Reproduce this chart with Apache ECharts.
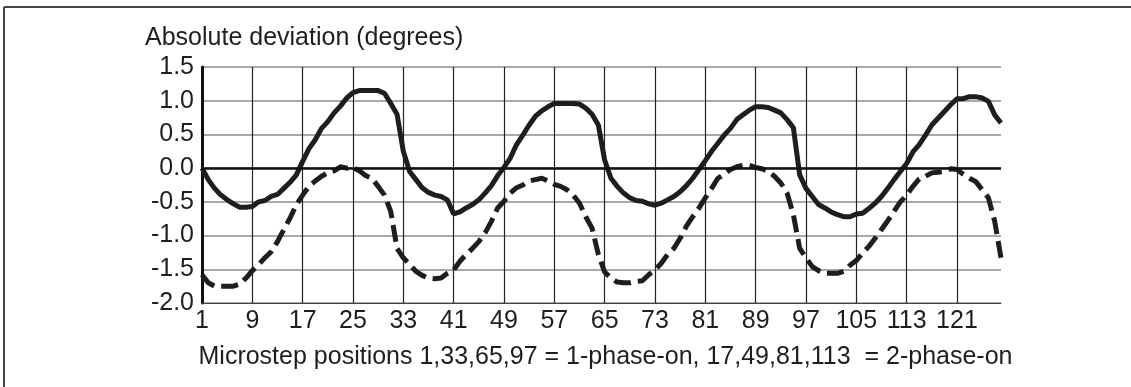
<!DOCTYPE html>
<html>
<head>
<meta charset="utf-8">
<script src="https://cdn.jsdelivr.net/npm/echarts@6/dist/echarts.min.js"></script>
<style>
  html, body { margin: 0; padding: 0; background: #fff; }
  #chart { width: 1131px; height: 387px; }
</style>
</head>
<body>
<div id="chart"></div>
<script>
// microstep positions 1..128 (category axis)
const positions = Array.from({ length: 128 }, (_, i) => String(i + 1));

// solid curve
const solid = [
  0.00, -0.17, -0.30, -0.40, -0.47, -0.53, -0.58, -0.58, -0.57, -0.50,
  -0.48, -0.42, -0.39, -0.30, -0.21, -0.10, 0.10, 0.29, 0.42, 0.59,
  0.69, 0.82, 0.92, 1.04, 1.12, 1.15, 1.15, 1.15, 1.15, 1.11,
  0.96, 0.80, 0.25, -0.05, -0.17, -0.29, -0.36, -0.40, -0.42, -0.47,
  -0.68, -0.65, -0.59, -0.54, -0.47, -0.37, -0.26, -0.11, 0.01, 0.15,
  0.35, 0.49, 0.64, 0.77, 0.85, 0.91, 0.96, 0.96, 0.96, 0.96,
  0.95, 0.89, 0.80, 0.64, 0.12, -0.15, -0.27, -0.37, -0.44, -0.48,
  -0.49, -0.53, -0.55, -0.52, -0.47, -0.42, -0.35, -0.26, -0.15, -0.02,
  0.11, 0.25, 0.37, 0.49, 0.59, 0.72, 0.79, 0.86, 0.91, 0.91,
  0.90, 0.86, 0.82, 0.72, 0.60, -0.10, -0.30, -0.42, -0.54, -0.59,
  -0.65, -0.69, -0.72, -0.72, -0.68, -0.67, -0.60, -0.52, -0.42, -0.30,
  -0.17, -0.05, 0.07, 0.24, 0.35, 0.49, 0.64, 0.74, 0.84, 0.94,
  1.03, 1.03, 1.06, 1.06, 1.04, 0.99, 0.79, 0.67
];

// dashed curve
const dashed = [
  -1.58, -1.70, -1.75, -1.75, -1.75, -1.75, -1.72, -1.63, -1.52, -1.43,
  -1.33, -1.24, -1.09, -0.91, -0.74, -0.54, -0.40, -0.27, -0.19, -0.12,
  -0.07, -0.04, 0.02, 0.00, 0.01, -0.04, -0.11, -0.15, -0.27, -0.40,
  -0.64, -1.19, -1.33, -1.43, -1.53, -1.59, -1.63, -1.64, -1.63, -1.56,
  -1.51, -1.38, -1.28, -1.19, -1.09, -0.96, -0.79, -0.59, -0.49, -0.37,
  -0.29, -0.25, -0.19, -0.17, -0.15, -0.19, -0.24, -0.27, -0.32, -0.40,
  -0.52, -0.72, -0.89, -1.28, -1.54, -1.63, -1.69, -1.70, -1.70, -1.68,
  -1.67, -1.58, -1.51, -1.41, -1.28, -1.19, -1.04, -0.86, -0.72, -0.59,
  -0.44, -0.30, -0.15, -0.09, -0.02, 0.02, 0.04, 0.04, 0.01, -0.01,
  -0.05, -0.12, -0.22, -0.37, -0.69, -1.19, -1.33, -1.46, -1.52, -1.56,
  -1.56, -1.56, -1.53, -1.44, -1.37, -1.26, -1.16, -1.04, -0.91, -0.78,
  -0.64, -0.50, -0.40, -0.27, -0.16, -0.12, -0.07, -0.06, -0.05, -0.01,
  -0.02, -0.09, -0.15, -0.20, -0.32, -0.44, -0.79, -1.33
];

const yTicks = [-2.0, -1.5, -1.0, -0.5, 0.0, 0.5, 1.0, 1.5];

const yTitle = 'Absolute deviation (degrees)';
const xTitle = 'Microstep positions 1,33,65,97 = 1-phase-on, 17,49,81,113  = 2-phase-on';

const ink = '#1e1e1e';
const font = 'Liberation Sans, Arial, sans-serif';

const myChart = echarts.init(document.getElementById('chart'));

const option = {
  animation: false,
  backgroundColor: '#fff',
  textStyle: { fontFamily: font },
  title: {
    text: yTitle,
    left: 140,
    top: 21,
    textStyle: { fontSize: 25, fontWeight: 'normal', color: ink, fontFamily: font }
  },
  grid: {
    left: 202,
    right: 130,
    top: 67,
    bottom: 84
  },
  xAxis: {
    type: 'category',
    data: positions,
    boundaryGap: false,
    name: xTitle,
    nameLocation: 'middle',
    nameGap: 42,
    nameTextStyle: { fontSize: 25, color: ink, fontFamily: font, padding: [0, 0, 0, 8] },
    axisLine: { onZero: false, lineStyle: { color: '#444', width: 1 } },
    axisTick: { show: false },
    axisLabel: { interval: 7, fontSize: 25, color: ink, margin: 6, fontFamily: font },
    splitLine: { show: true, interval: 7, lineStyle: { color: '#222', width: 1.2 } }
  },
  yAxis: {
    type: 'value',
    min: yTicks[0],
    max: yTicks[yTicks.length - 1],
    interval: 0.5,
    axisLine: { show: true, lineStyle: { color: '#111', width: 3 } },
    axisTick: { show: false },
    axisLabel: {
      fontSize: 25, color: ink, margin: 8, fontFamily: font,
      formatter: v => v.toFixed(1)
    },
    splitLine: { show: true, lineStyle: { color: '#8c8c8c', width: 1.5 } }
  },
  series: [
    {
      name: 'solid',
      type: 'line',
      data: solid,
      symbol: 'none',
      lineStyle: { color: ink, width: 5, type: 'solid' },
      markLine: {
        silent: true,
        symbol: 'none',
        label: { show: false },
        lineStyle: { color: '#111', width: 2.5, type: 'solid' },
        data: [{ yAxis: 0 }]
      },
      z: 3
    },
    {
      name: 'dashed',
      type: 'line',
      data: dashed,
      symbol: 'none',
      lineStyle: { color: ink, width: 5, type: [17, 7] },
      z: 3
    }
  ],
  graphic: [
    { type: 'line', shape: { x1: 4, y1: 7, x2: 1131, y2: 7 }, style: { stroke: '#444', lineWidth: 2 } },
    { type: 'line', shape: { x1: 4, y1: 7, x2: 4, y2: 387 }, style: { stroke: '#444', lineWidth: 2 } }
  ]
};

myChart.setOption(option);
</script>
</body>
</html>
